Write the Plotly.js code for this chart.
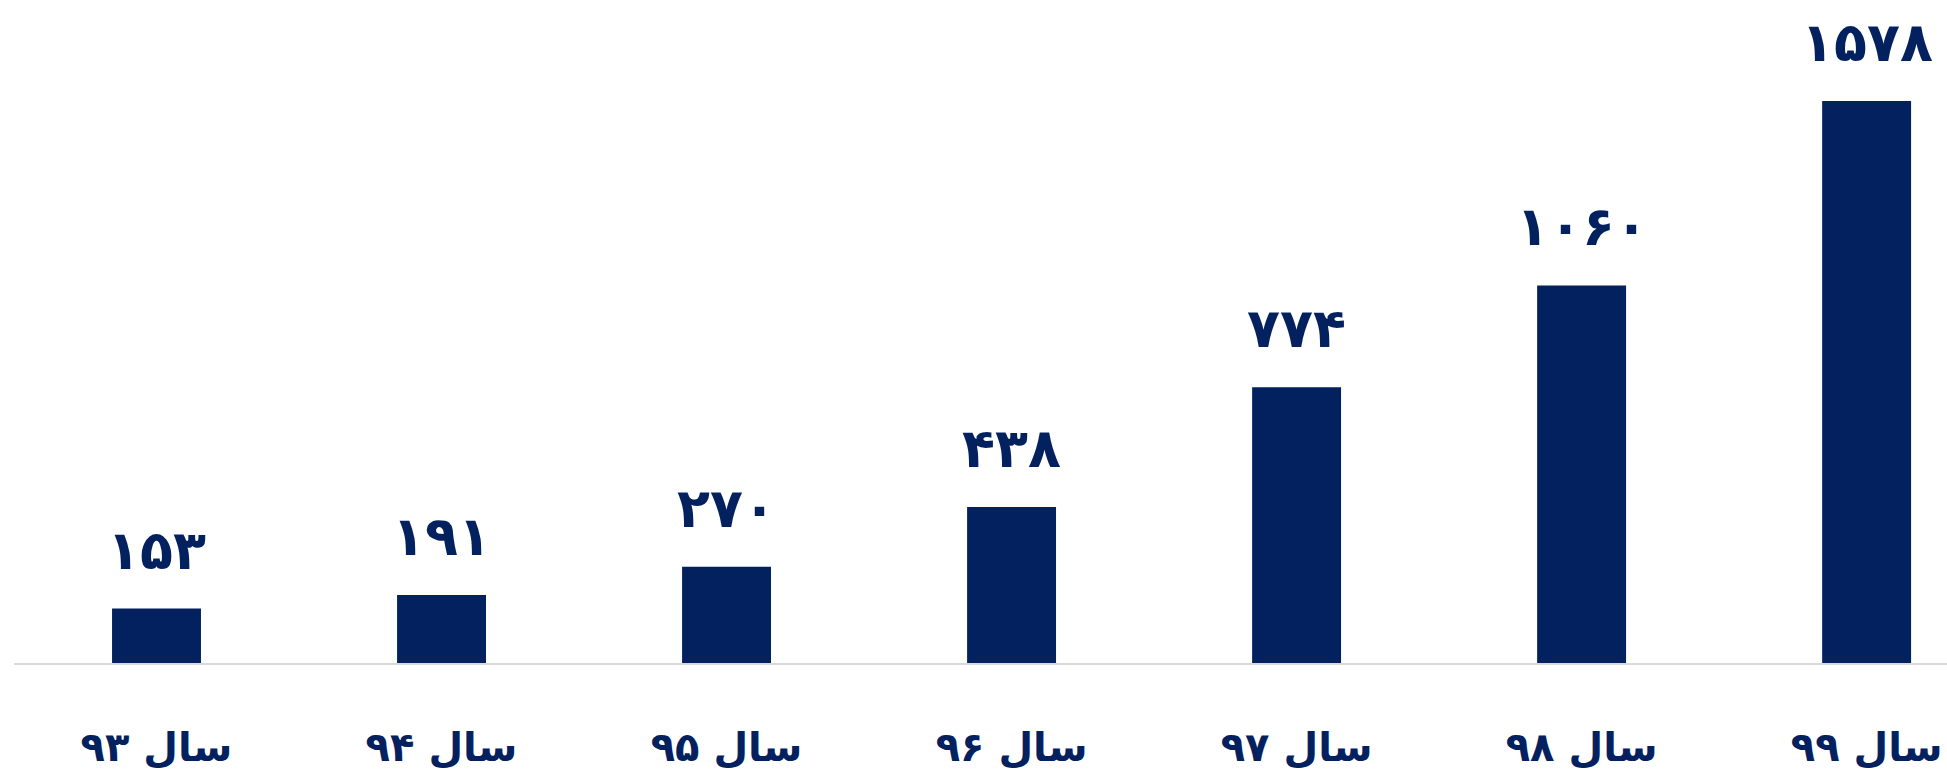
<!DOCTYPE html>
<html>
<head>
<meta charset="utf-8">
<script src="https://cdn.plot.ly/plotly-3.0.1.min.js"></script>
<style>
  html, body { margin: 0; padding: 0; background: #ffffff; }
  #chart { width: 1947px; height: 775px; }
</style>
</head>
<body>
<div id="chart"></div>
<script>
// Data
const years = [93, 94, 95, 96, 97, 98, 99];
const values = [153, 191, 270, 438, 774, 1060, 1578];
const yearPrefix = 'سال';

const faDigits = ['۰','۱','۲','۳','۴','۵','۶','۷','۸','۹'];
function toFa(n) { return String(n).replace(/[0-9]/g, d => faDigits[+d]); }

const categories = years.map(y => yearPrefix + ' ' + toFa(y));
const valueLabels = values.map(v => toFa(v));

const navy = '#03215F';

const trace = {
  type: 'bar',
  x: categories,
  y: values,
  marker: { color: navy, line: { width: 0 } },
  hoverinfo: 'skip'
};

const annotations = categories.map((c, i) => ({
  x: c, y: values[i], xref: 'x', yref: 'y',
  text: valueLabels[i],
  showarrow: false,
  yanchor: 'bottom',
  yshift: 25,
  font: { family: 'DejaVu Sans', size: 54, color: navy, weight: 'bold' }
}));

const layout = {
  width: 1947,
  height: 775,
  margin: { l: 14, r: 0, t: 0, b: 112, pad: 0 },
  paper_bgcolor: '#ffffff',
  plot_bgcolor: '#ffffff',
  showlegend: false,
  bargap: 0.688,
  xaxis: {
    type: 'category',
    range: [-0.5, 6.282],
    showline: true,
    linecolor: '#D9D9D9',
    linewidth: 2,
    showgrid: false,
    zeroline: false,
    ticks: '',
    ticklabelstandoff: 48,
    tickfont: { family: 'DejaVu Sans', size: 40, color: navy, weight: 'bold' }
  },
  yaxis: {
    range: [0, 1861.6],
    showgrid: false,
    zeroline: false,
    showline: false,
    showticklabels: false,
    ticks: ''
  },
  annotations: annotations
};

Plotly.newPlot('chart', [trace], layout, { staticPlot: true, displayModeBar: false });
</script>
</body>
</html>
